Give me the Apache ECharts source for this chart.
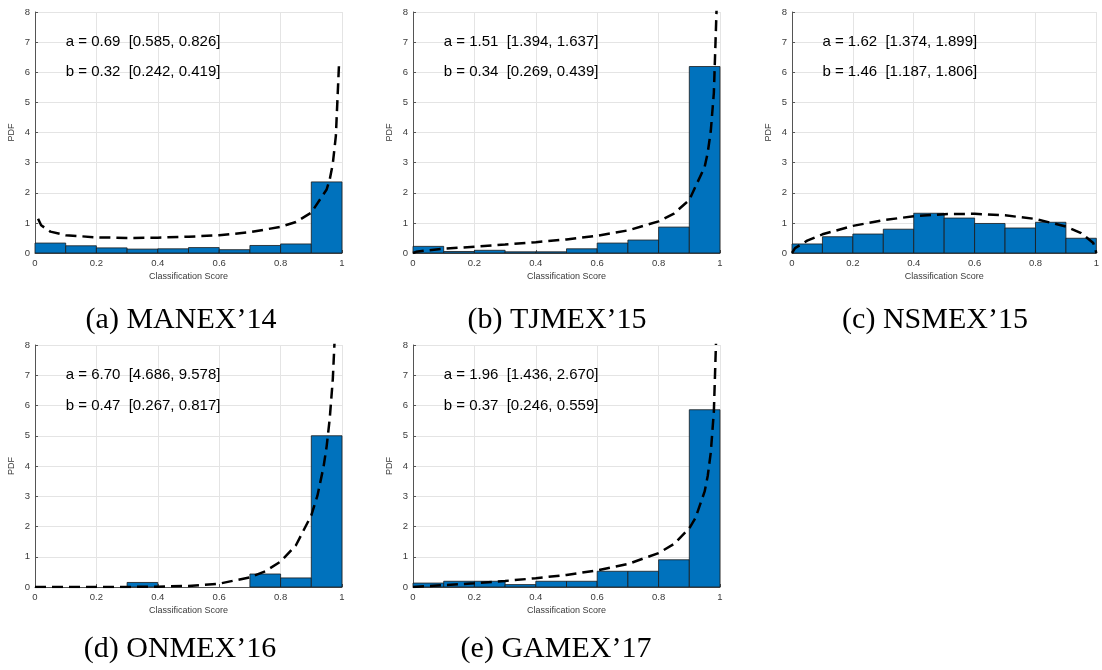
<!DOCTYPE html>
<html>
<head>
<meta charset="utf-8">
<script src="https://cdn.jsdelivr.net/npm/echarts@6/dist/echarts.min.js"></script>
<style>
html,body{margin:0;padding:0;background:#fff;}
#chart{width:1102px;height:670px;}
</style>
</head>
<body>
<div id="chart"></div>
<script>
// ---------- data ----------
const binEdges = [0, 0.1, 0.2, 0.3, 0.4, 0.5, 0.6, 0.7, 0.8, 0.9, 1.0];
const xTicks = [0, 0.2, 0.4, 0.6, 0.8, 1];
const yTicks = [0, 1, 2, 3, 4, 5, 6, 7, 8];

const captions = ["(a) MANEX\u201914", "(b) TJMEX\u201915", "(c) NSMEX\u201915", "(d) ONMEX\u201916", "(e) GAMEX\u201917"];
const textA = ["a = 0.69  [0.585, 0.826]", "b = 0.32  [0.242, 0.419]"];
const textB = ["a = 1.51  [1.394, 1.637]", "b = 0.34  [0.269, 0.439]"];
const textC = ["a = 1.62  [1.374, 1.899]", "b = 1.46  [1.187, 1.806]"];
const textD = ["a = 6.70  [4.686, 9.578]", "b = 0.47  [0.267, 0.817]"];
const textE = ["a = 1.96  [1.436, 2.670]", "b = 0.37  [0.246, 0.559]"];

const barsA = [0.33, 0.24, 0.17, 0.13, 0.14, 0.18, 0.11, 0.25, 0.30, 2.36];
const barsB = [0.22, 0.05, 0.09, 0.04, 0.04, 0.14, 0.33, 0.43, 0.86, 6.19];
const barsC = [0.30, 0.54, 0.63, 0.79, 1.32, 1.16, 0.98, 0.83, 1.02, 0.49];
const barsD = [0, 0, 0, 0.15, 0, 0, 0, 0.43, 0.30, 5.00];
const barsE = [0.13, 0.19, 0.19, 0.08, 0.19, 0.19, 0.52, 0.52, 0.90, 5.86];

const curveXA = [0.01, 0.02, 0.05, 0.1, 0.2, 0.3, 0.4, 0.5, 0.6, 0.7, 0.8, 0.85, 0.9, 0.95, 0.96, 0.97, 0.98, 0.99];
const curveYA = [1.14, 0.92, 0.71, 0.59, 0.52, 0.50, 0.51, 0.54, 0.59, 0.69, 0.87, 1.03, 1.34, 2.11, 2.44, 2.96, 3.89, 6.21];
const curveXB = [0, 0.01, 0.05, 0.1, 0.2, 0.3, 0.4, 0.5, 0.6, 0.7, 0.8, 0.85, 0.9, 0.95, 0.96, 0.97, 0.98, 0.99];
const curveYB = [0, 0.04, 0.09, 0.14, 0.21, 0.28, 0.36, 0.45, 0.57, 0.75, 1.05, 1.31, 1.76, 2.86, 3.33, 4.05, 5.32, 8.45];
const curveXC = [0, 0.01, 0.05, 0.1, 0.2, 0.3, 0.4, 0.5, 0.6, 0.7, 0.8, 0.9, 0.95, 0.99, 1];
const curveYC = [0, 0.16, 0.41, 0.62, 0.90, 1.09, 1.22, 1.29, 1.30, 1.25, 1.13, 0.88, 0.66, 0.33, 0];
const curveXD = [0, 0.1, 0.2, 0.3, 0.4, 0.5, 0.6, 0.7, 0.75, 0.8, 0.85, 0.9, 0.92, 0.94, 0.95, 0.96, 0.97, 0.98, 0.99];
const curveYD = [0, 0, 0, 0.002, 0.01, 0.035, 0.11, 0.32, 0.52, 0.84, 1.38, 2.37, 3.02, 3.98, 4.65, 5.56, 6.86, 9.04, 13.8];
const curveXE = [0, 0.1, 0.2, 0.3, 0.4, 0.5, 0.6, 0.7, 0.8, 0.85, 0.9, 0.92, 0.95, 0.96, 0.97, 0.98, 0.99];
const curveYE = [0, 0.06, 0.12, 0.20, 0.29, 0.40, 0.55, 0.76, 1.12, 1.42, 1.94, 2.28, 3.16, 3.67, 4.45, 5.80, 9.06];

// ---------- layout ----------
const panels = [
  {bars: barsA, cx: curveXA, cy: curveYA, text: textA, left: 35,  top: 12,  h: 241, cap: [181, 320]},
  {bars: barsB, cx: curveXB, cy: curveYB, text: textB, left: 413, top: 12,  h: 241, cap: [557, 320]},
  {bars: barsC, cx: curveXC, cy: curveYC, text: textC, left: 792, top: 12,  h: 241, cap: [935, 320]},
  {bars: barsD, cx: curveXD, cy: curveYD, text: textD, left: 35,  top: 345, h: 242, cap: [180, 649]},
  {bars: barsE, cx: curveXE, cy: curveYE, text: textE, left: 413, top: 345, h: 242, cap: [556, 649]}
];

const axisCol = '#555555';
const labelCol = '#3a3a3a';
const gridCol = '#e4e4e4';
const sansFont = 'Liberation Sans, Arial, sans-serif';

const grids = [], xAxes = [], yAxes = [], series = [], graphics = [];

panels.forEach((p, i) => {
  grids.push({left: p.left, top: p.top, width: 307, height: p.h, containLabel: false});
  xAxes.push({
    type: 'value', gridIndex: i, min: xTicks[0], max: xTicks[xTicks.length - 1], interval: 0.2,
    name: 'Classification Score', nameLocation: 'middle', nameGap: 19,
    nameTextStyle: {fontSize: 9, color: labelCol, fontFamily: sansFont},
    axisLine: {show: true, onZero: false, lineStyle: {color: axisCol, width: 1}},
    axisTick: {show: true, inside: true, length: 3, lineStyle: {color: axisCol}},
    axisLabel: {fontSize: 9.5, color: labelCol, margin: 5, fontFamily: sansFont},
    splitLine: {show: true, lineStyle: {color: gridCol, width: 1}}
  });
  yAxes.push({
    type: 'value', gridIndex: i, min: yTicks[0], max: yTicks[yTicks.length - 1], interval: 1,
    name: 'PDF', nameLocation: 'middle', nameGap: 19,
    nameTextStyle: {fontSize: 9, color: labelCol, fontFamily: sansFont},
    axisLine: {show: true, onZero: false, lineStyle: {color: axisCol, width: 1}},
    axisTick: {show: true, inside: true, length: 3, lineStyle: {color: axisCol}},
    axisLabel: {fontSize: 9.5, color: labelCol, margin: 5, fontFamily: sansFont},
    splitLine: {show: true, lineStyle: {color: gridCol, width: 1}}
  });

  const barData = [];
  p.bars.forEach((h, k) => { if (h > 0) barData.push([binEdges[k], binEdges[k + 1], h]); });
  series.push({
    type: 'custom', xAxisIndex: i, yAxisIndex: i, data: barData,
    encode: {x: [0, 1], y: 2}, z: 2,
    renderItem: function (params, api) {
      const a = api.coord([api.value(0), 0]);
      const b = api.coord([api.value(1), api.value(2)]);
      return {
        type: 'rect',
        shape: {x: a[0], y: b[1], width: b[0] - a[0], height: a[1] - b[1]},
        style: {fill: '#0072BD', stroke: '#1a1a1a', lineWidth: 0.8}
      };
    }
  });

  series.push({
    type: 'line', xAxisIndex: i, yAxisIndex: i, z: 3,
    data: p.cx.map((x, k) => [x, p.cy[k]]),
    showSymbol: false, symbol: 'none', clip: true, silent: true,
    lineStyle: {color: '#000', width: 2.5, type: [11, 6]}
  });

  const txt = p.text;
  series.push({
    type: 'custom', xAxisIndex: i, yAxisIndex: i, z: 5,
    data: [[0.1, 7], [0.1, 6]],
    encode: {x: 0, y: 1},
    renderItem: function (params, api) {
      const c = api.coord([api.value(0), api.value(1)]);
      return {
        type: 'text', x: c[0], y: c[1],
        style: {text: txt[params.dataIndex], fill: '#000', font: '15px ' + sansFont,
                textAlign: 'left', textVerticalAlign: 'middle'}
      };
    }
  });

  graphics.push({
    type: 'text', x: p.cap[0], y: p.cap[1],
    style: {text: captions[i], fill: '#000', font: '30px "Liberation Serif", "DejaVu Serif", serif',
            textAlign: 'center', textVerticalAlign: 'middle'}
  });
});

const chart = echarts.init(document.getElementById('chart'), null, {renderer: 'canvas'});
chart.setOption({
  animation: false,
  backgroundColor: '#ffffff',
  grid: grids, xAxis: xAxes, yAxis: yAxes, series: series, graphic: graphics
});
</script>
</body>
</html>
